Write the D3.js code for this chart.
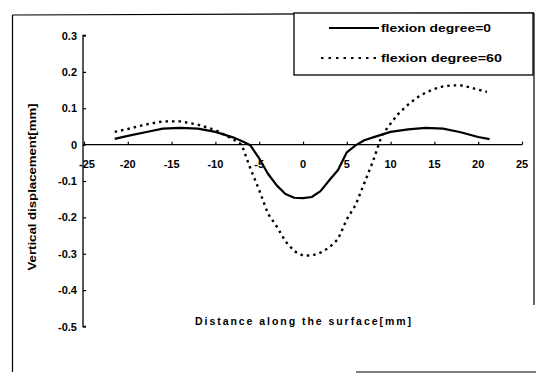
<!DOCTYPE html>
<html><head><meta charset="utf-8">
<script src="https://cdn.jsdelivr.net/npm/d3@7"></script>
<style>html,body{margin:0;padding:0;background:#fff}svg{display:block}</style>
</head><body>
<svg id="c" width="536" height="374"></svg>
<script>
const xTicks = [-25,-20,-15,-10,-5,0,5,10,15,20,25];
const yTicks = [0.3,0.2,0.1,0,-0.1,-0.2,-0.3,-0.4,-0.5];
const seriesNames = ["flexion degree=0","flexion degree=60"];
const x0 = [-21.5,-20,-18,-16,-14,-12,-10,-8,-7,-6,-5,-4,-3,-2,-1,0,1,2,3,4,5,6,7,8,10,12,14,16,18,20,21.3];
const y0 = [0.016,0.024,0.034,0.044,0.046,0.044,0.035,0.02,0.01,-0.002,-0.038,-0.08,-0.112,-0.136,-0.146,-0.147,-0.144,-0.128,-0.098,-0.07,-0.021,-0.002,0.012,0.02,0.035,0.042,0.046,0.044,0.034,0.021,0.015];
const x60 = [-21.5,-20,-18,-16,-14,-12,-10,-8,-7,-6,-5,-4,-3,-2,-1,0,1,2,3,4,5,6,7,8,9,10,11,12,13,14,15,16,17,18,19,20,21];
const y60 = [0.035,0.043,0.055,0.064,0.064,0.055,0.04,0.015,0.0,-0.066,-0.125,-0.19,-0.225,-0.266,-0.293,-0.305,-0.305,-0.297,-0.283,-0.26,-0.205,-0.166,-0.106,-0.045,0.025,0.058,0.088,0.11,0.129,0.143,0.153,0.16,0.163,0.163,0.158,0.151,0.145];

const svg = d3.select("#c");
const x = d3.scaleLinear().domain([-25,25]).range([84,522]);
const y = d3.scaleLinear().domain([-0.5,0.3]).range([326.5,35.5]);
const font = "'Liberation Sans', Arial, sans-serif";

// outer frame (partial, as scanned)
const frame = svg.append("g").attr("stroke","#000").attr("stroke-width",1.2).attr("fill","none");
frame.append("line").attr("x1",12.5).attr("y1",15).attr("x2",534).attr("y2",13);
frame.append("line").attr("x1",12.5).attr("y1",15).attr("x2",12.5).attr("y2",372);
frame.append("line").attr("x1",534).attr("y1",13).attr("x2",534).attr("y2",305);
frame.append("line").attr("x1",356).attr("y1",372).attr("x2",536).attr("y2",372);

// y axis
const yAxis = d3.axisRight(y).tickValues(yTicks).tickSize(3).tickFormat(()=>"");
const gy = svg.append("g").attr("transform",`translate(${x(-25)-1},0)`).call(yAxis);
gy.select(".domain").attr("stroke","#000").attr("stroke-width",1.3).attr("d",`M3,${y(0.3)}H0V${y(-0.5)}H3`);
gy.selectAll(".tick line").attr("stroke","#000").attr("stroke-width",1.2);
svg.append("g").selectAll("text").data(yTicks).join("text")
  .attr("x",77).attr("y",d=>y(d)+4).attr("text-anchor","end")
  .attr("font-family",font).attr("font-weight","bold").attr("font-size",11)
  .text(d=>d===0?"0":(d<0?"-":"")+Math.abs(d).toFixed(1));

// x axis at zero
const xAxis = d3.axisTop(x).tickValues(xTicks).tickSize(3).tickFormat(()=>"");
const gx = svg.append("g").attr("transform",`translate(0,${y(0)})`).call(xAxis);
gx.select(".domain").attr("stroke","#000").attr("stroke-width",1.3).attr("d",`M${x(-25)-1},0H${x(25)}`);
gx.selectAll(".tick line").attr("stroke","#000").attr("stroke-width",1.2);
svg.append("g").selectAll("text").data(xTicks).join("text")
  .attr("x",d=>x(d)+ (d===-25?3:0)).attr("y",y(0)+23).attr("text-anchor","middle")
  .attr("font-family",font).attr("font-weight","bold").attr("font-size",11)
  .text(d=>d);

// lines
const line = d3.line().x(d=>x(d[0])).y(d=>y(d[1]));
svg.append("path").datum(d3.zip(x0,y0)).attr("d",line)
  .attr("fill","none").attr("stroke","#000").attr("stroke-width",2.2).attr("stroke-linejoin","round");
svg.append("path").datum(d3.zip(x60,y60)).attr("d",line)
  .attr("fill","none").attr("stroke","#000").attr("stroke-width",2.4)
  .attr("stroke-dasharray","2.5,4").attr("stroke-linecap","butt");

// axis titles
svg.append("text").attr("transform","translate(36,187) rotate(-90)")
  .attr("text-anchor","middle").attr("font-family",font).attr("font-weight","bold").attr("font-size",10.5)
  .attr("textLength",167).attr("lengthAdjust","spacingAndGlyphs")
  .text("Vertical displacement[mm]");
svg.append("text").attr("x",303).attr("y",325)
  .attr("text-anchor","middle").attr("font-family",font).attr("font-weight","bold").attr("font-size",10.5)
  .attr("textLength",216).attr("lengthAdjust","spacing")
  .text("Distance along the surface[mm]");

// legend
const lg = svg.append("g");
lg.append("rect").attr("x",294).attr("y",13).attr("width",239).attr("height",62)
  .attr("fill","#fff").attr("stroke","#000").attr("stroke-width",1.3);
lg.append("line").attr("x1",329).attr("x2",379).attr("y1",28).attr("y2",28)
  .attr("stroke","#000").attr("stroke-width",2.2);
lg.append("line").attr("x1",321).attr("x2",379).attr("y1",58).attr("y2",58)
  .attr("stroke","#000").attr("stroke-width",2.2).attr("stroke-dasharray","2.5,5");
lg.selectAll("text.l").data(seriesNames).join("text").attr("class","l")
  .attr("x",381).attr("y",(d,i)=>32+i*30)
  .attr("font-family",font).attr("font-weight","bold").attr("font-size",11.5)
  .attr("textLength",(d,i)=>i===0?110:121).attr("lengthAdjust","spacingAndGlyphs")
  .text(d=>d);
</script>
</body></html>
